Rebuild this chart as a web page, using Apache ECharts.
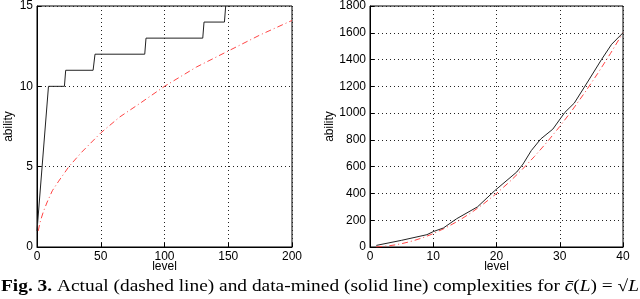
<!DOCTYPE html>
<html><head><meta charset="utf-8">
<script src="https://cdn.jsdelivr.net/npm/echarts@6/dist/echarts.min.js"></script>
<style>html,body{margin:0;padding:0;background:#fff}#c{width:640px;height:299px}</style>
</head><body><div id="c"></div>
<script>
// Left panel: c(L) = sqrt(L)
const leftXTicks = [0, 50, 100, 150, 200];
const leftYTicks = [0, 5, 10, 15];
const leftMinedLevel   = [0, 9, 21.5, 22.5, 44, 45.5, 84.5, 85.5, 130, 131, 147, 148];
const leftMinedAbility = [1, 10, 10, 11, 11, 12, 12, 13, 13, 14, 14, 15];
const leftActualLevel   = [1, 2, 3, 5, 8, 12, 17, 25, 35, 50, 65, 80, 100, 125, 150, 175, 200];
const leftActualAbility = [1, 1.4, 1.7, 2.2, 2.8, 3.5, 4.1, 5, 5.9, 7.1, 8.1, 8.9, 10, 11.2, 12.2, 13.2, 14.1];
// Right panel
const rightXTicks = [0, 10, 20, 30, 40];
const rightYTicks = [0, 200, 400, 600, 800, 1000, 1200, 1400, 1600, 1800];
const rightMinedLevel   = [1, 5, 9, 10, 11.6, 13.7, 17, 19.7, 23.2, 24.2, 25.5, 27, 28.9, 30.8, 32.3, 34.5, 36.6, 38.2, 40];
const rightMinedAbility = [12, 50, 92, 115, 142, 211, 300, 420, 560, 620, 720, 807, 880, 1005, 1075, 1240, 1400, 1514, 1600];
const rightActualLevel   = [1, 2, 3, 4, 5, 6, 7, 8, 9, 10, 12, 14, 16, 18, 20, 22, 24, 26, 28, 30, 32, 34, 36, 38, 40];
const rightActualAbility = [1, 4, 9, 16, 25, 36, 49, 64, 81, 100, 144, 196, 256, 324, 400, 484, 576, 676, 784, 900, 1024, 1156, 1296, 1444, 1600];

const xName = 'level', yName = 'ability';
const zip = (a, b) => a.map((v, i) => [v, b[i]]);
const font = 'Liberation Sans, Arial, sans-serif';
const split = {show: true, lineStyle: {color: '#222', width: 1, type: [1, 3]}};
function xAx(idx, ticks) {
  return {type: 'value', gridIndex: idx, min: ticks[0], max: ticks[ticks.length-1], interval: ticks[1]-ticks[0],
    name: xName, nameLocation: 'middle', nameGap: 20, nameMoveOverlap: false,
    nameTextStyle: {fontFamily: font, fontSize: 12, color: '#000', verticalAlign: 'middle'},
    axisLine: {lineStyle: {color: '#000'}}, axisTick: {inside: true, length: 4, lineStyle: {color: '#000'}},
    axisLabel: {fontFamily: font, fontSize: 12, color: '#000', margin: 4, formatter: v => String(v)}, splitLine: split};
}
function yAx(idx, ticks, gap) {
  return {type: 'value', gridIndex: idx, min: ticks[0], max: ticks[ticks.length-1], interval: ticks[1]-ticks[0],
    name: yName, nameLocation: 'middle', nameGap: gap, nameRotate: 90, nameMoveOverlap: false,
    nameTextStyle: {fontFamily: font, fontSize: 12, color: '#000'},
    axisLine: {lineStyle: {color: '#000'}}, axisTick: {inside: true, length: 4, lineStyle: {color: '#000'}},
    axisLabel: {fontFamily: font, fontSize: 12, color: '#000', margin: 4, formatter: v => String(v)}, splitLine: split};
}
const solid = {color: '#222', width: 1};
const dashdot = {color: '#ff4444', width: 1, type: [6, 3, 1, 3]};
const chart = echarts.init(document.getElementById('c'), null, {renderer: 'canvas'});
chart.setOption({
  animation: false,
  grid: [
    {left: 37, right: 348, top: 5, bottom: 52, show: true, borderColor: '#000', borderWidth: 1},
    {left: 370, right: 17, top: 5, bottom: 52, show: true, borderColor: '#000', borderWidth: 1}
  ],
  xAxis: [xAx(0, leftXTicks), xAx(1, rightXTicks)],
  yAxis: [yAx(0, leftYTicks, 22), yAx(1, rightYTicks, 34)],
  series: [
    {type: 'line', xAxisIndex: 0, yAxisIndex: 0, data: zip(leftActualLevel, leftActualAbility), symbol: 'none', lineStyle: dashdot, z: 2},
    {type: 'line', xAxisIndex: 0, yAxisIndex: 0, data: zip(leftMinedLevel, leftMinedAbility), symbol: 'none', lineStyle: solid, z: 3},
    {type: 'line', xAxisIndex: 1, yAxisIndex: 1, data: zip(rightActualLevel, rightActualAbility), symbol: 'none', lineStyle: dashdot, z: 2},
    {type: 'line', xAxisIndex: 1, yAxisIndex: 1, data: zip(rightMinedLevel, rightMinedAbility), symbol: 'none', lineStyle: solid, z: 3}
  ],
  graphic: [{
    type: 'text', x: 1, y: 278, scaleX: 1.175,
    style: {
      text: '{b|Fig. 3.} Actual (dashed line) and data-mined (solid line) complexities for {i|c̄}({i|L}) = √{i|L}',
      font: '16.5px "Liberation Serif", serif', fill: '#000',
      rich: {b: {fontWeight: 'bold', fontSize: 16.5, fontFamily: 'Liberation Serif'},
             i: {fontStyle: 'italic', fontSize: 16.5, fontFamily: 'Liberation Serif'}}
    }
  }]
});
</script></body></html>
